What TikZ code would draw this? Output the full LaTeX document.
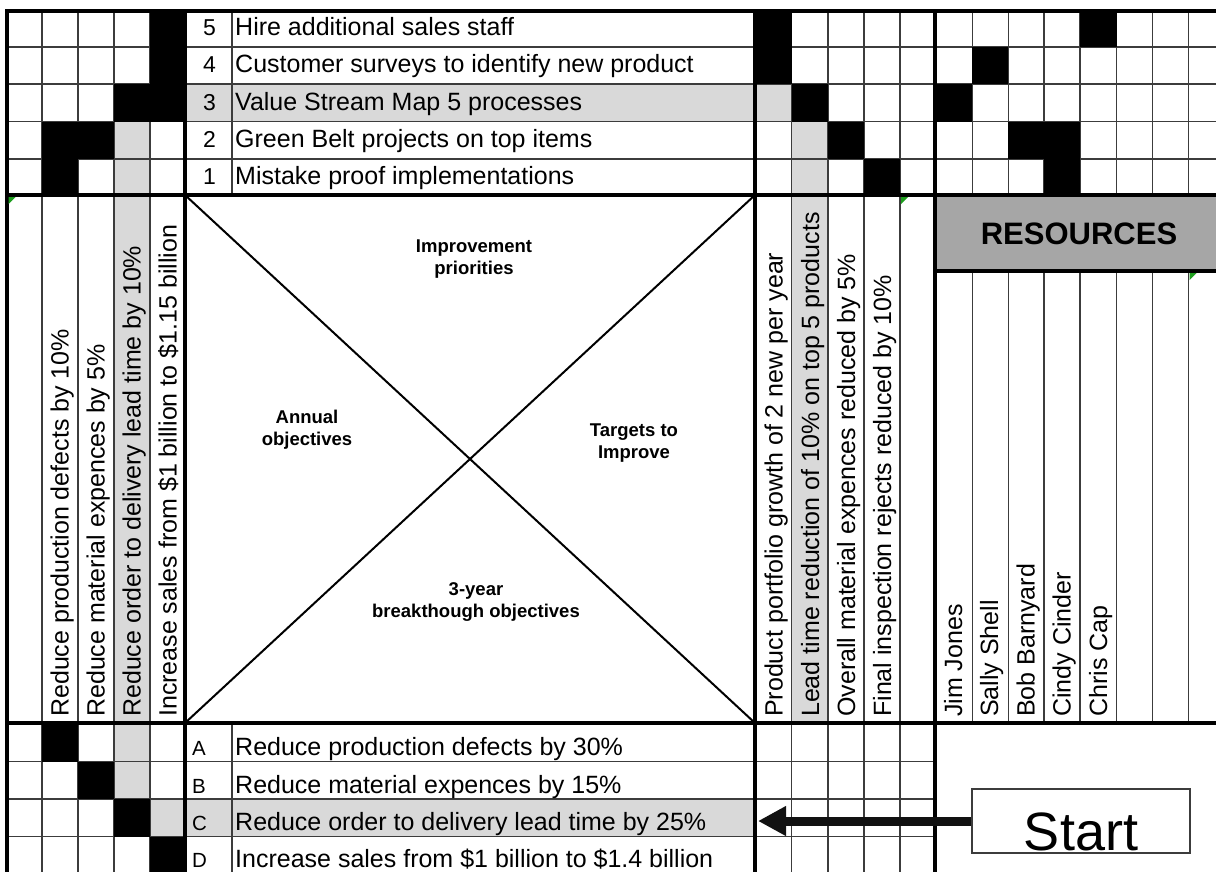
\documentclass[tikz,border=0pt]{standalone}
\usepackage{fontspec}
\setmainfont{Liberation Sans}
\usetikzlibrary{arrows.meta}
\definecolor{hilite}{HTML}{D9D9D9}
\definecolor{headgray}{HTML}{A6A6A6}
\definecolor{gridgray}{HTML}{3C3C3C}
\definecolor{flag}{HTML}{1E9E1E}
\definecolor{arrowink}{HTML}{111111}

\begin{document}
\begin{tikzpicture}[x=1pt,y=-1pt,
  gridline/.style={draw=gridgray, line width=1.3pt},
  heavy/.style={draw=black, line width=4pt},
  cross/.style={draw=black, line width=2pt},
  rowtext/.style={anchor=base west, inner sep=0pt, font=\fontsize{25}{30}\selectfont},
  numtext/.style={anchor=base, inner sep=0pt, font=\fontsize{23}{28}\selectfont},
  lettext/.style={anchor=base west, inner sep=0pt, font=\fontsize{20.5}{25}\selectfont},
  coltext/.style={rotate=90, anchor=base west, inner sep=0pt, font=\fontsize{25}{30}\selectfont},
  quadlabel/.style={align=center, inner sep=0pt, font=\bfseries\fontsize{18.5}{22}\selectfont},
  headlabel/.style={inner sep=0pt, font=\bfseries\fontsize{31}{36}\selectfont},
  startbox/.style={draw=gridgray, line width=1.5pt, fill=white, inner sep=0pt,
    minimum width=218pt, text height=61pt, text depth=3pt,
    font=\fontsize{54}{60}\selectfont},
  marker/.style={fill=flag}
]
\useasboundingbox (0,0) rectangle (1216,871);
\clip (0,0) rectangle (1216,871);
\fill[white] (0,0) rectangle (1216,871);

% highlighted row and columns
\fill[hilite] (114,121.5) rectangle (150,799);
\fill[hilite] (150,799) rectangle (755,836.5);
\fill[hilite] (185,84) rectangle (791.5,121.5);
\fill[hilite] (791.5,121.5) rectangle (828,723);

% resources header band
\fill[headgray] (935.3,195) rectangle (1224,271);

% thin grid
\foreach \y in {47,84,121.5,159}
  \draw[gridline] (6.5,\y) -- (1224,\y);
\foreach \y in {761.5,799,836.5}
  \draw[gridline] (6.5,\y) -- (935.3,\y);
\foreach \x in {42,78,114,150,791.5,828,864,900}
  \draw[gridline] (\x,11) -- (\x,880);
\draw[gridline] (232,11) -- (232,195);
\draw[gridline] (232,723) -- (232,880);
\foreach \x in {972.3,1008.3,1044,1080,1116.7,1152.7,1188.3} {
  \draw[gridline] (\x,11) -- (\x,195);
  \draw[gridline] (\x,271) -- (\x,723);
}

% filled correlation cells
\fill (150,11) rectangle (185,121.5);
\fill (114,84) rectangle (150,121.5);
\fill (42,121.5) rectangle (114,159);
\fill (42,159) rectangle (78,195);
\fill (755,11) rectangle (791.5,84);
\fill (791.5,84) rectangle (828,121.5);
\fill (828,121.5) rectangle (864,159);
\fill (864,159) rectangle (900,195);
\fill (1080,11) rectangle (1116.7,47);
\fill (972.3,47) rectangle (1008.3,84);
\fill (935.3,84) rectangle (972.3,121.5);
\fill (1008.3,121.5) rectangle (1080,159);
\fill (1044,159) rectangle (1080,195);
\fill (42,723) rectangle (78,761.5);
\fill (78,761.5) rectangle (114,799);
\fill (114,799) rectangle (150,836.5);
\fill (150,836.5) rectangle (185,874);

% heavy frame lines
\draw[heavy] (1224,11) -- (6.5,11) -- (6.5,880);
\draw[heavy] (6.5,195) -- (1224,195);
\draw[heavy] (6.5,723) -- (1224,723);
\draw[heavy] (935.3,271) -- (1224,271);
\foreach \x in {185,755,935.3}
  \draw[heavy] (\x,11) -- (\x,880);

% central X
\draw[cross] (185,195) -- (755,723);
\draw[cross] (185,723) -- (755,195);

% small cell flags
\fill[marker] (8.5,197) -- (15.5,197) -- (8.5,204) -- cycle;
\fill[marker] (901,197) -- (908,197) -- (901,204) -- cycle;
\fill[marker] (1189.5,273) -- (1196.5,273) -- (1189.5,280) -- cycle;

% improvement priorities
\node[numtext] (n5) at (209.5,35.5) {5};
\node[numtext] (n4) at (209.5,72.5) {4};
\node[numtext] (n3) at (209.5,110) {3};
\node[numtext] (n2) at (209.5,147.5) {2};
\node[numtext] (n1) at (209.5,184.5) {1};
\node[rowtext] (p5) at (235,35.5) {Hire additional sales staff};
\node[rowtext] (p4) at (235,72.5) {Customer surveys to identify new product};
\node[rowtext] (p3) at (235,110) {Value Stream Map 5 processes};
\node[rowtext] (p2) at (235,147.5) {Green Belt projects on top items};
\node[rowtext] (p1) at (235,184.5) {Mistake proof implementations};

% breakthrough objectives
\node[lettext] (la) at (192,755) {A};
\node[lettext] (lb) at (192,793) {B};
\node[lettext] (lc) at (192,830) {C};
\node[lettext] (ld) at (192,867.5) {D};
\node[rowtext] (ba) at (235,755) {Reduce production defects by 30\%};
\node[rowtext] (bb) at (235,793) {Reduce material expences by 15\%};
\node[rowtext] (bc) at (235,830) {Reduce order to delivery lead time by 25\%};
\node[rowtext] (bd) at (235,867.5) {Increase sales from \$1 billion to \$1.4 billion};

% annual objectives
\node[coltext] (a1) at (68.5,717) {Reduce production defects by 10\%};
\node[coltext] (a2) at (104.5,717) {Reduce material expences by 5\%};
\node[coltext] (a3) at (140.5,717) {Reduce order to delivery lead time by 10\%};
\node[coltext] (a4) at (176.5,717) {Increase sales from \$1 billion to \$1.15 billion};

% targets to improve
\node[coltext] (g1) at (782.5,717) {Product portfolio growth of 2 new per year};
\node[coltext] (g2) at (819,717) {Lead time reduction of 10\% on top 5 products};
\node[coltext] (g3) at (855,717) {Overall material expences reduced by 5\%};
\node[coltext] (g4) at (891,717) {Final inspection rejects reduced by 10\%};

% resources
\node[headlabel] (res) at (1079,233.5) {RESOURCES};
\node[coltext] (r1) at (962,717) {Jim Jones};
\node[coltext] (r2) at (998,717) {Sally Shell};
\node[coltext] (r3) at (1034.5,717) {Bob Barnyard};
\node[coltext] (r4) at (1070.5,717) {Cindy Cinder};
\node[coltext] (r5) at (1107,717) {Chris Cap};

% quadrant captions
\node[quadlabel] (qtop) at (474,259) {Improvement\\priorities};
\node[quadlabel] (qleft) at (307,430) {Annual\\objectives};
\node[quadlabel] (qright) at (634,443) {Targets to\\Improve};
\node[quadlabel] (qbottom) at (476,602) {3-year\\breakthough objectives};

% start marker pointing at the selected objective
\node[startbox] (start) at (1081,821) {Start};
\coordinate (goal) at (758,821);
\draw[arrowink, line width=9pt, -{Triangle[length=28pt,width=28pt]}] (start.west) -- (goal);
\end{tikzpicture}
\end{document}
